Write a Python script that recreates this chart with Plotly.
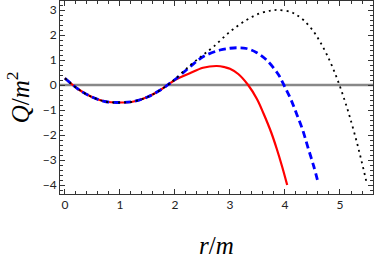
import plotly.graph_objects as go

# values
r_red = [0, 0.25, 0.5, 0.75, 1.0, 1.25, 1.5, 1.75, 1.91, 2.0, 2.27, 2.51, 2.76, 2.91, 3.0, 3.15, 3.33, 3.49, 3.61, 3.75, 3.85, 3.95, 4.04]
q_red = [0.27, -0.18, -0.49, -0.67, -0.70, -0.66, -0.48, -0.18, 0.07, 0.2, 0.47, 0.69, 0.76, 0.71, 0.65, 0.44, 0.0, -0.56, -1.14, -1.9, -2.55, -3.28, -4.0]

r_blue = [0, 0.25, 0.5, 0.75, 1.0, 1.25, 1.5, 1.75, 1.91, 2.0, 2.27, 2.51, 2.82, 3.0, 3.15, 3.3, 3.48, 3.67, 3.88, 3.98, 4.1, 4.21, 4.32, 4.42, 4.52, 4.61]
q_blue = [0.27, -0.18, -0.49, -0.67, -0.70, -0.66, -0.48, -0.18, 0.07, 0.22, 0.72, 1.13, 1.40, 1.47, 1.49, 1.46, 1.30, 0.99, 0.42, 0.0, -0.54, -1.15, -1.79, -2.52, -3.23, -3.96]

r_black = [0, 0.25, 0.5, 0.75, 1.0, 1.25, 1.5, 1.75, 1.91, 2.0, 2.25, 2.51, 2.7, 3.0, 3.3, 3.55, 3.75, 3.88, 4.09, 4.2, 4.33, 4.51, 4.64, 4.76, 4.88, 4.99, 5.09, 5.18, 5.3, 5.39, 5.49]
q_black = [0.27, -0.18, -0.49, -0.67, -0.70, -0.66, -0.48, -0.18, 0.07, 0.23, 0.74, 1.2, 1.53, 2.13, 2.6, 2.87, 2.98, 3.0, 2.93, 2.82, 2.61, 2.17, 1.72, 1.22, 0.63, 0.0, -0.65, -1.29, -2.24, -3.03, -3.96]

x_ticks = [0, 1, 2, 3, 4, 5]
y_ticks = [-4, -3, -2, -1, 0, 1, 2, 3]

fig = go.Figure()
fig.add_hline(y=0, line=dict(color="#888888", width=2.5), layer="below")
fig.add_trace(go.Scatter(x=r_red, y=q_red, mode="lines", line=dict(color="#ff0000", width=2.2, shape="spline")))
fig.add_trace(go.Scatter(x=r_blue, y=q_blue, mode="lines", line=dict(color="#0000ff", width=2.8, dash="7px,4px", shape="spline")))
fig.add_trace(go.Scatter(x=r_black, y=q_black, mode="lines", line=dict(color="black", width=1.8, dash="2px,4px", shape="spline")))

axis_common = dict(
    showline=True, linecolor="#333333", linewidth=1, mirror="ticks",
    ticks="inside", ticklen=5, tickwidth=1, tickcolor="#333333",
    showgrid=False, zeroline=False,
    tickfont=dict(family="Lato", size=12, color="#222222"),
)

fig.update_layout(
    width=374, height=258,
    margin=dict(l=60, r=1, t=1, b=64),
    plot_bgcolor="white", paper_bgcolor="white",
    showlegend=False,
    xaxis=dict(range=[-0.09, 5.6], tickvals=x_ticks, ticktext=[str(v) for v in x_ticks],
               minor=dict(dtick=0.2, tick0=0, ticks="inside", ticklen=3, tickcolor="#333333"),
               **axis_common),
    yaxis=dict(range=[-4.36, 3.36], tickvals=y_ticks, ticktext=[("\u2212" + str(-v)) if v < 0 else str(v) for v in y_ticks],
               minor=dict(dtick=0.2, tick0=0, ticks="inside", ticklen=3, tickcolor="#333333"),
               **axis_common),
    annotations=[
        dict(text="<i>r</i>/<i>m</i>", xref="paper", yref="paper", x=0.5, y=-0.265,
             xanchor="center", yanchor="middle", showarrow=False,
             font=dict(family="Liberation Serif", size=25, color="black")),
        dict(text="<i>Q</i>/<i>m</i><sup>2</sup>", xref="paper", yref="paper", x=-0.135, y=0.5,
             xanchor="center", yanchor="middle", showarrow=False, textangle=-90,
             font=dict(family="Liberation Serif", size=25, color="black")),
    ],
)

fig.write_html("out.html", config={"displayModeBar": False},
               post_script="document.body.style.margin='0';document.body.style.padding='0';")
